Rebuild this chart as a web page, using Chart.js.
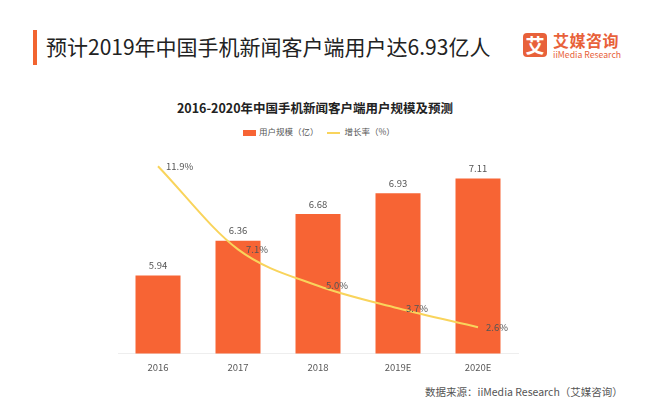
<!DOCTYPE html>
<html><head><meta charset="utf-8">
<script src="https://cdn.jsdelivr.net/npm/chart.js@4"></script>
<style>
html,body{margin:0;padding:0;background:#fff;width:656px;height:405px;overflow:hidden;font-family:"Noto Sans CJK SC","Noto Sans",sans-serif;}
.abs{position:absolute;white-space:nowrap;}
#bar{left:33px;top:30px;width:4px;height:35px;background:#F26430;}
#title{left:46px;top:31px;font-size:21px;line-height:30px;color:#222;}
#logo{left:523px;top:33px;width:24px;height:24px;background:#E8613A;border-radius:4px;color:#fff;font-size:19px;line-height:24px;text-align:center;font-weight:bold;}
#logo1{left:553px;top:31px;font-size:16px;line-height:18px;color:#E8613A;font-weight:bold;letter-spacing:0.5px;}
#logo2{left:553px;top:49px;font-size:8.7px;line-height:11px;color:#E8613A;}
#ctitle{left:0;width:630px;text-align:center;top:98px;font-size:12.5px;line-height:20px;font-weight:bold;color:#222;}
#leg{left:243px;top:125px;font-size:8.5px;line-height:12px;color:#555;}
#src{left:425px;top:384px;font-size:10.5px;line-height:16px;color:#555;}
#wrap{left:98px;top:136px;width:440px;height:245px;}
</style></head>
<body>
<div class="abs" id="bar"></div>
<div class="abs" id="title">预计2019年中国手机新闻客户端用户达6.93亿人</div>
<div class="abs" id="logo">艾</div>
<div class="abs" id="logo1">艾媒咨询</div>
<div class="abs" id="logo2">iiMedia Research</div>
<div class="abs" id="ctitle">2016-2020年中国手机新闻客户端用户规模及预测</div>
<div class="abs" id="leg"><span style="display:inline-block;width:13px;height:6px;background:#F76434;vertical-align:middle;margin-right:3px"></span>用户规模（亿）<span style="display:inline-block;width:13px;height:2px;background:#F9D45C;vertical-align:middle;margin:0 5px 0 8px"></span>增长率（%）</div>
<div class="abs" id="src">数据来源：iiMedia Research（艾媒咨询）</div>
<div class="abs" id="wrap"><canvas id="c" width="440" height="245"></canvas></div>
<script>
const categories = ["2016","2017","2018","2019E","2020E"];
const users = [5.94, 6.36, 6.68, 6.93, 7.11];
const growth = [11.9, 7.1, 5.0, 3.7, 2.6];

const labelPlugin = {
  id:'lbl',
  afterDatasetsDraw(chart){
    const ctx = chart.ctx;
    ctx.save();
    ctx.font = '9.5px "Noto Sans CJK SC","Noto Sans",sans-serif';
    ctx.fillStyle = '#555';
    const mBar = chart.getDatasetMeta(1);
    ctx.textAlign='center'; ctx.textBaseline='middle';
    mBar.data.forEach((b,i)=>ctx.fillText(users[i].toFixed(2), b.x, b.y-10));
    const mLine = chart.getDatasetMeta(0);
    ctx.textAlign='left'; ctx.textBaseline='middle';
    mLine.data.forEach((p,i)=>ctx.fillText(growth[i].toFixed(1)+'%', p.x+8, p.y));
    ctx.restore();
  }
};

new Chart(document.getElementById('c'), {
  data:{
    labels:categories,
    datasets:[
      {type:'line', label:'增长率（%）', data:growth, yAxisID:'y2', borderColor:'#F9D45C', borderWidth:2, pointRadius:0, tension:0.4, cubicInterpolationMode:'monotone', order:0},
      {type:'bar', label:'用户规模（亿）', data:users, yAxisID:'y', backgroundColor:'#F76434', categoryPercentage:1, barPercentage:0.5625, order:1}
    ]
  },
  options:{
    responsive:false, animation:false,
    layout:{padding:{left:20,right:20,top:10,bottom:0}},
    plugins:{legend:{display:false}, tooltip:{enabled:false}},
    scales:{
      x:{grid:{display:false, drawTicks:false}, border:{color:'#eeeeee'}, ticks:{color:'#595959', font:{size:9.5, family:'"Noto Sans CJK SC","Noto Sans",sans-serif'}, padding:8}},
      y:{display:false, min:5, max:7.5},
      y2:{display:false, min:1.08, max:13.07}
    }
  },
  plugins:[labelPlugin]
});
</script>
</body></html>
